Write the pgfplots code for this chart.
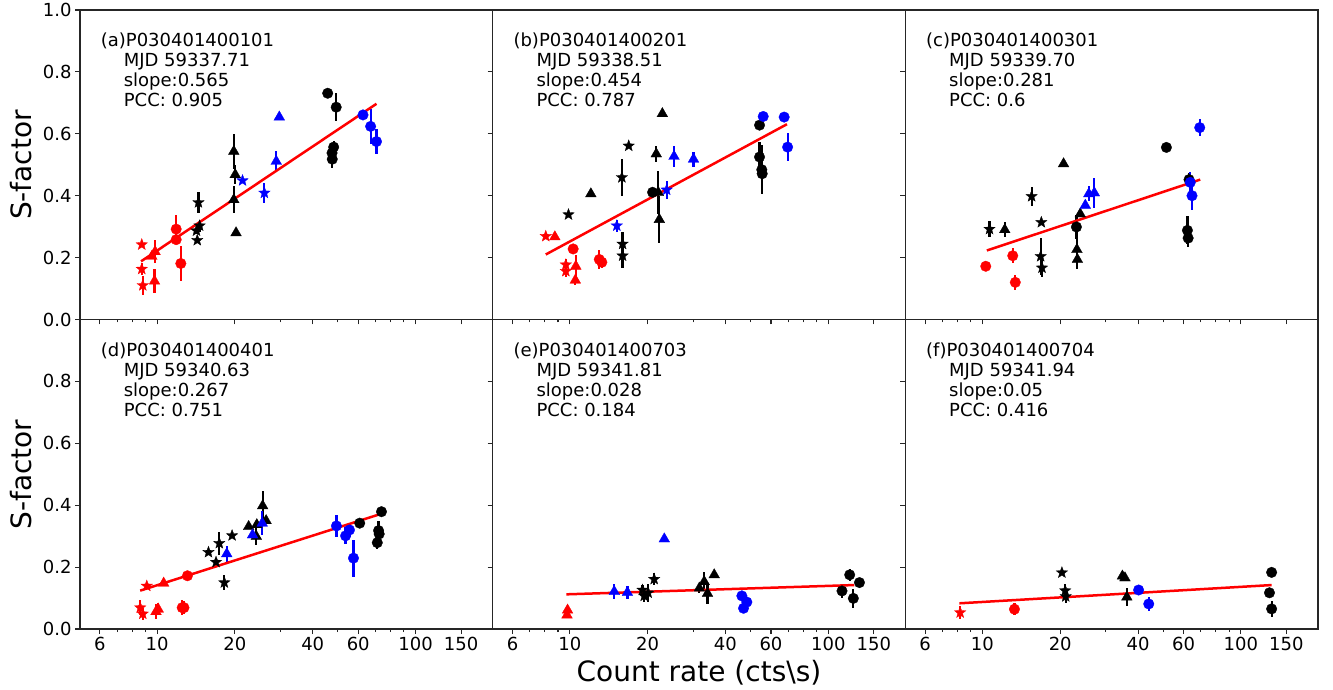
\documentclass[border=0pt]{standalone}
\usepackage{fontspec}
\setmainfont{DejaVu Sans}
\usepackage{pgfplots}
\pgfplotsset{compat=1.18}
\usetikzlibrary{plotmarks}

\pgfdeclareplotmark{fstar}{%
  \pgfpathmoveto{\pgfpointpolar{90}{\pgfplotmarksize}}%
  \pgfpathlineto{\pgfpointpolar{126}{0.42\pgfplotmarksize}}%
  \pgfpathlineto{\pgfpointpolar{162}{\pgfplotmarksize}}%
  \pgfpathlineto{\pgfpointpolar{198}{0.42\pgfplotmarksize}}%
  \pgfpathlineto{\pgfpointpolar{234}{\pgfplotmarksize}}%
  \pgfpathlineto{\pgfpointpolar{270}{0.42\pgfplotmarksize}}%
  \pgfpathlineto{\pgfpointpolar{306}{\pgfplotmarksize}}%
  \pgfpathlineto{\pgfpointpolar{342}{0.42\pgfplotmarksize}}%
  \pgfpathlineto{\pgfpointpolar{18}{\pgfplotmarksize}}%
  \pgfpathlineto{\pgfpointpolar{54}{0.42\pgfplotmarksize}}%
  \pgfpathclose
  \pgfusepathqfillstroke}

\pgfplotsset{
    xmin=5.03, xmax=198.8, ymin=0, ymax=1,
    width=412.7pt, height=309.5pt, scale only axis,
    axis line style={black!85, line width=1.1pt},
    tick style={black!85, line width=1.1pt},
    major tick length=5pt, minor tick length=3pt,
    tick align=outside, tick pos=left,
    yticklabel style={/pgf/number format/fixed, /pgf/number format/fixed zerofill, /pgf/number format/precision=1},
    ticklabel style={font=\fontsize{18}{20}\selectfont},
    /pgf/number format/assume math mode=true,
}
\pgfplotsset{
  ser/.style 2 args={only marks, color=#1, mark=#2,
     mark options={fill=#1, draw=#1, line width=0.3pt, solid},
     error bars/y dir=both, error bars/y explicit, error bars/error mark=none,
     error bars/error bar style={line width=2.2pt, color=#1}},
  fitl/.style={red, line width=2.5pt, no marks},
  cir/.style={mark size=5.3pt},
  tri/.style={mark size=6.2pt},
  sta/.style={mark size=6pt},
}
\newcommand{\ann}[4]{\node[anchor=north west, align=left, inner sep=0pt, font=\fontsize{18}{20}\selectfont] at (rel axis cs:0.05,0.926) {#1\\\hspace*{23pt}MJD #2\\\hspace*{23pt}slope:#3\\\hspace*{23pt}PCC: #4};}

\begin{document}
\begin{tikzpicture}
\useasboundingbox (0,0) rectangle (1333pt,689pt);

% ---------------- (a)
\begin{axis}[xmode=log, xtick={6,10,20,40,60,100,150}, minor xtick={7,8,9,30,50,70,80,90}, ytick={0,0.2,0.4,0.6,0.8,1.0}, xticklabels={}, at={(80pt,369.5pt)}, anchor=south west]
\addplot[ser={red}{*}, cir] table[x=x,y=y,y error=e]{
x y e
11.85 0.292 0.045
11.85 0.258 0.0
12.35 0.181 0.056
};
\addplot[ser={red}{triangle*}, tri] table[x=x,y=y,y error=e]{
x y e
9.54 0.204 0.0
9.82 0.219 0.038
9.77 0.124 0.038
};
\addplot[ser={red}{fstar}, sta] table[x=x,y=y,y error=e]{
x y e
8.72 0.242 0.0
8.72 0.163 0.02
8.80 0.110 0.03
};
\addplot[ser={black}{fstar}, sta] table[x=x,y=y,y error=e]{
x y e
14.45 0.378 0.035
14.2 0.287 0.01
14.6 0.303 0.02
14.3 0.256 0.01
};
\addplot[ser={black}{triangle*}, tri] table[x=x,y=y,y error=e]{
x y e
19.8 0.543 0.056
20.05 0.468 0.03
19.8 0.387 0.043
20.2 0.280 0.01
};
\addplot[ser={black}{*}, cir] table[x=x,y=y,y error=e]{
x y e
45.7 0.731 0.0
49.3 0.686 0.046
48.2 0.557 0.02
47.5 0.538 0.0
47.6 0.518 0.03
};
\addplot[ser={blue}{fstar}, sta] table[x=x,y=y,y error=e]{
x y e
21.4 0.449 0.0
26.0 0.409 0.032
};
\addplot[ser={blue}{triangle*}, tri] table[x=x,y=y,y error=e]{
x y e
28.9 0.511 0.032
29.7 0.654 0.0
};
\addplot[ser={blue}{*}, cir] table[x=x,y=y,y error=e]{
x y e
62.6 0.661 0.015
67.0 0.624 0.056
70.6 0.575 0.04
};
\addplot[fitl] coordinates {(8.67,0.188) (70.6,0.697)};
\ann{(a)P030401400101}{59337.71}{0.565}{0.905}
\end{axis}

% ---------------- (b)
\begin{axis}[xmode=log, xtick={6,10,20,40,60,100,150}, minor xtick={7,8,9,30,50,70,80,90}, ytick={0,0.2,0.4,0.6,0.8,1.0}, xticklabels={}, yticklabels={}, at={(492.7pt,369.5pt)}, anchor=south west]
\addplot[ser={red}{fstar}, sta] table[x=x,y=y,y error=e]{
x y e
8.07 0.269 0.0
9.65 0.177 0.02
9.65 0.156 0.02
};
\addplot[ser={red}{triangle*}, tri] table[x=x,y=y,y error=e]{
x y e
8.75 0.267 0.0
10.55 0.172 0.035
10.5 0.127 0.015
};
\addplot[ser={red}{*}, cir] table[x=x,y=y,y error=e]{
x y e
10.3 0.228 0.0
13.0 0.194 0.032
13.3 0.185 0.02
};
\addplot[ser={black}{fstar}, sta] table[x=x,y=y,y error=e]{
x y e
9.88 0.339 0.0
16.9 0.561 0.0
15.9 0.459 0.06
16.0 0.244 0.04
16.0 0.206 0.04
};
\addplot[ser={black}{triangle*}, tri] table[x=x,y=y,y error=e]{
x y e
12.06 0.406 0.0
22.2 0.323 0.075
21.6 0.535 0.027
22.8 0.665 0.0
22.0 0.410 0.07
};
\addplot[ser={black}{*}, cir] table[x=x,y=y,y error=e]{
x y e
20.9 0.411 0.0
54.2 0.628 0.0
54.2 0.525 0.05
55.3 0.484 0.08
55.5 0.471 0.03
};
\addplot[ser={blue}{fstar}, sta] table[x=x,y=y,y error=e]{
x y e
15.2 0.303 0.02
23.7 0.419 0.03
};
\addplot[ser={blue}{triangle*}, tri] table[x=x,y=y,y error=e]{
x y e
25.3 0.527 0.035
30.1 0.518 0.024
};
\addplot[ser={blue}{*}, cir] table[x=x,y=y,y error=e]{
x y e
56.0 0.656 0.0
67.5 0.654 0.0
69.6 0.557 0.045
};
\addplot[fitl] coordinates {(8.07,0.21) (69.2,0.631)};
\ann{(b)P030401400201}{59338.51}{0.454}{0.787}
\end{axis}

% ---------------- (c)
\begin{axis}[xmode=log, xtick={6,10,20,40,60,100,150}, minor xtick={7,8,9,30,50,70,80,90}, ytick={0,0.2,0.4,0.6,0.8,1.0}, xticklabels={}, yticklabels={}, at={(905.3pt,369.5pt)}, anchor=south west]
\addplot[ser={red}{*}, cir] table[x=x,y=y,y error=e]{
x y e
10.3 0.172 0.0
13.1 0.206 0.024
13.4 0.120 0.024
};
\addplot[ser={black}{fstar}, sta] table[x=x,y=y,y error=e]{
x y e
10.65 0.292 0.027
15.5 0.398 0.03
16.9 0.314 0.0
16.8 0.204 0.06
17.0 0.167 0.03
};
\addplot[ser={black}{triangle*}, tri] table[x=x,y=y,y error=e]{
x y e
12.2 0.290 0.024
20.6 0.503 0.0
23.2 0.226 0.04
23.3 0.194 0.03
23.9 0.341 0.0
};
\addplot[ser={black}{*}, cir] table[x=x,y=y,y error=e]{
x y e
23.1 0.299 0.04
51.5 0.556 0.0
63.0 0.452 0.02
62.1 0.288 0.045
62.5 0.263 0.03
};
\addplot[ser={blue}{triangle*}, tri] table[x=x,y=y,y error=e]{
x y e
25.0 0.369 0.0
25.8 0.406 0.024
27.1 0.409 0.048
};
\addplot[ser={blue}{*}, cir] table[x=x,y=y,y error=e]{
x y e
63.7 0.443 0.035
64.7 0.400 0.045
69.3 0.620 0.027
};
\addplot[fitl] coordinates {(10.4,0.223) (69.6,0.452)};
\ann{(c)P030401400301}{59339.70}{0.281}{0.6}
\end{axis}

% ---------------- (d)
\begin{axis}[xmode=log, xtick={6,10,20,40,60,100,150}, minor xtick={7,8,9,30,50,70,80,90}, ytick={0,0.2,0.4,0.6,0.8}, xticklabels={6,10,20,40,60,100,150}, at={(80pt,60pt)}, anchor=south west]
\addplot[ser={red}{fstar}, sta] table[x=x,y=y,y error=e]{
x y e
9.12 0.139 0.0
8.6 0.069 0.025
8.8 0.049 0.02
};
\addplot[ser={red}{triangle*}, tri] table[x=x,y=y,y error=e]{
x y e
10.6 0.148 0.0
9.9 0.056 0.025
10.1 0.064 0.02
};
\addplot[ser={red}{*}, cir] table[x=x,y=y,y error=e]{
x y e
13.1 0.172 0.0
12.5 0.069 0.024
12.7 0.069 0.02
};
\addplot[ser={black}{fstar}, sta] table[x=x,y=y,y error=e]{
x y e
15.8 0.248 0.0
16.9 0.216 0.0
17.4 0.277 0.038
18.2 0.150 0.024
19.5 0.302 0.0
};
\addplot[ser={black}{triangle*}, tri] table[x=x,y=y,y error=e]{
x y e
22.6 0.331 0.0
24.2 0.299 0.027
25.6 0.398 0.048
24.3 0.337 0.0
26.4 0.350 0.0
};
\addplot[ser={black}{*}, cir] table[x=x,y=y,y error=e]{
x y e
60.8 0.342 0.0
73.8 0.379 0.0
71.9 0.318 0.03
72.3 0.307 0.0
71.1 0.279 0.022
};
\addplot[ser={blue}{triangle*}, tri] table[x=x,y=y,y error=e]{
x y e
18.6 0.243 0.025
23.4 0.304 0.0
25.5 0.342 0.038
};
\addplot[ser={blue}{*}, cir] table[x=x,y=y,y error=e]{
x y e
49.4 0.333 0.036
53.6 0.301 0.027
55.5 0.320 0.022
57.5 0.229 0.06
};
\addplot[fitl] coordinates {(8.6,0.124) (71.6,0.369)};
\ann{(d)P030401400401}{59340.63}{0.267}{0.751}
\end{axis}

% ---------------- (e)
\begin{axis}[xmode=log, xtick={6,10,20,40,60,100,150}, minor xtick={7,8,9,30,50,70,80,90}, ytick={0,0.2,0.4,0.6,0.8}, xticklabels={6,10,20,40,60,100,150}, yticklabels={}, at={(492.7pt,60pt)}, anchor=south west]
\addplot[ser={red}{triangle*}, tri] table[x=x,y=y,y error=e]{
x y e
9.8 0.061 0.0
9.75 0.045 0.0
};
\addplot[ser={blue}{triangle*}, tri] table[x=x,y=y,y error=e]{
x y e
14.85 0.121 0.024
16.7 0.118 0.02
23.2 0.291 0.0
};
\addplot[ser={blue}{*}, cir] table[x=x,y=y,y error=e]{
x y e
46.3 0.107 0.01
48.4 0.087 0.01
47.0 0.067 0.01
};
\addplot[ser={black}{fstar}, sta] table[x=x,y=y,y error=e]{
x y e
19.1 0.126 0.015
19.4 0.107 0.02
20.1 0.117 0.03
21.2 0.161 0.02
};
\addplot[ser={black}{triangle*}, tri] table[x=x,y=y,y error=e]{
x y e
31.7 0.132 0.015
33.1 0.153 0.03
34.1 0.115 0.035
36.2 0.175 0.0
};
\addplot[ser={black}{*}, cir] table[x=x,y=y,y error=e]{
x y e
113 0.123 0.024
121 0.175 0.02
125 0.099 0.03
132 0.150 0.0
};
\addplot[fitl] coordinates {(9.7,0.112) (126,0.142)};
\ann{(e)P030401400703}{59341.81}{0.028}{0.184}
\end{axis}

% ---------------- (f)
\begin{axis}[xmode=log, xtick={6,10,20,40,60,100,150}, minor xtick={7,8,9,30,50,70,80,90}, ytick={0,0.2,0.4,0.6,0.8}, xticklabels={6,10,20,40,60,100,150}, yticklabels={}, at={(905.3pt,60pt)}, anchor=south west]
\addplot[ser={red}{fstar}, sta] table[x=x,y=y,y error=e]{
x y e
8.2 0.053 0.02
};
\addplot[ser={red}{*}, cir] table[x=x,y=y,y error=e]{
x y e
13.3 0.064 0.02
};
\addplot[ser={black}{fstar}, sta] table[x=x,y=y,y error=e]{
x y e
20.3 0.182 0.0
20.9 0.124 0.02
21.0 0.105 0.02
};
\addplot[ser={black}{triangle*}, tri] table[x=x,y=y,y error=e]{
x y e
34.8 0.171 0.0
35.6 0.165 0.0
36.2 0.103 0.03
};
\addplot[ser={black}{*}, cir] table[x=x,y=y,y error=e]{
x y e
131.5 0.183 0.0
129 0.117 0.0
131.5 0.065 0.025
};
\addplot[ser={blue}{*}, cir] table[x=x,y=y,y error=e]{
x y e
40.2 0.126 0.0
44.0 0.081 0.024
};
\addplot[fitl] coordinates {(8.14,0.083) (131.5,0.142)};
\ann{(f)P030401400704}{59341.94}{0.05}{0.416}
\end{axis}

\node[rotate=90, anchor=center, font=\fontsize{28}{30}\selectfont] at (21pt,524pt) {S-factor};
\node[rotate=90, anchor=center, font=\fontsize{28}{30}\selectfont] at (21pt,214.5pt) {S-factor};
\node[anchor=base, font=\fontsize{28}{30}\selectfont] at (699pt,8pt) {Count rate (cts\textbackslash s)};
\end{tikzpicture}
\end{document}
